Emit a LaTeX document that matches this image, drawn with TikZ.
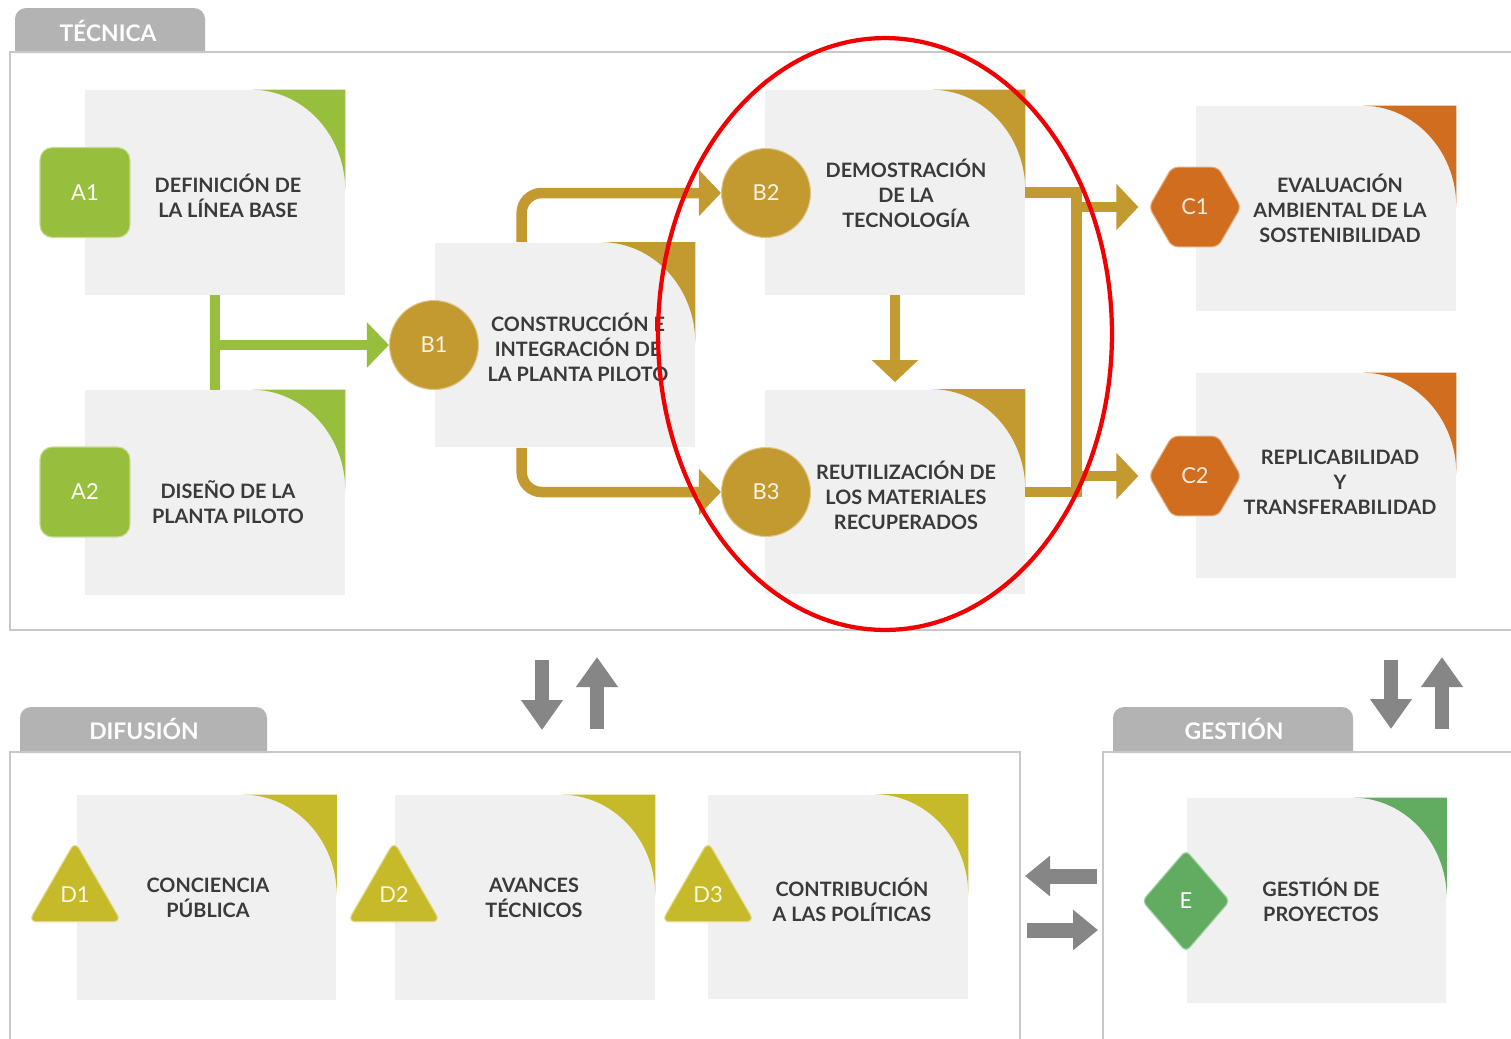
\documentclass[tikz,border=0pt]{standalone}
\usepackage{fontspec}
\setmainfont{Lato}
\usetikzlibrary{arrows.meta,shapes.geometric,calc}
\pgfdeclarelayer{bg}
\pgfdeclarelayer{mid}
\pgfsetlayers{bg,mid,main}
\definecolor{cardgray}{HTML}{F0F0F0}
\definecolor{framegray}{HTML}{C8C8C8}
\definecolor{tabgray}{HTML}{B3B3B3}
\definecolor{arrowgray}{HTML}{868686}
\definecolor{textdark}{HTML}{3A3A3A}
\definecolor{cgreen}{HTML}{97BF3D}
\definecolor{cgold}{HTML}{C39A2F}
\definecolor{corange}{HTML}{D06D1F}
\definecolor{colive}{HTML}{C6BA2B}
\definecolor{cgreenE}{HTML}{62AC62}
\definecolor{hlred}{HTML}{F00000}
\newcommand\cardcorner[2]{\fill[#2] (#1.north east) -- ++(-1.88cm,0) arc[start angle=90,end angle=0,x radius=1.88cm,y radius=2.02cm] -- cycle;}
\begin{document}
\begin{tikzpicture}[x=0.02cm,y=-0.02cm,
  framel/.style={draw=framegray,line width=0.05cm},
  tabfill/.style={fill=tabgray,rounded corners=0.22cm},
  tabtext/.style={text=white,font=\bfseries\fontsize{13}{15}\selectfont,inner sep=0},
  card/.style={fill=cardgray,minimum width=5.2cm,minimum height=4.1cm,inner sep=0},
  ctext/.style={align=center,text=textdark,font=\bfseries\fontsize{11.3}{14.2}\selectfont,inner sep=0},
  badge/.style={fill=#1,draw=#1!55!white,line width=0.6pt,font=\fontsize{12.5}{15}\selectfont,inner sep=0},
  sqbadge/.style={badge=#1,rectangle,rounded corners=0.25cm,minimum width=1.8cm,minimum height=1.8cm,text=white},
  circbadge/.style={badge=#1,circle,minimum size=1.78cm,text={#1!12!white}},
  hexbadge/.style={badge=#1,regular polygon,regular polygon sides=6,minimum size=1.84cm,rounded corners=0.12cm,text={#1!15!white}},
  tribadge/.style={badge=#1,regular polygon,regular polygon sides=3,minimum size=2.14cm,rounded corners=0.16cm,text={#1!12!white}},
  diabadge/.style={badge=#1,diamond,minimum width=1.76cm,minimum height=2.04cm,rounded corners=0.1cm,text=white},
  greenline/.style={draw=cgreen,line width=0.2cm},
  goldline/.style={draw=cgold,line width=0.21cm},
  ctip/.style={-{Triangle[width=0.9cm,length=0.44cm]}},
  vgarrow/.style={draw=arrowgray,line width=0.28cm,-{Triangle[width=0.8cm,length=0.6cm]}},
  hgarrow/.style={draw=arrowgray,line width=0.3cm,-{Triangle[width=0.78cm,length=0.5cm]}}
]
\useasboundingbox (0,0) rectangle (1511,1038);
\clip (0,0) rectangle (1511,1038);

\begin{pgfonlayer}{bg}
\fill[white] (0,0) rectangle (1511,1038);
% ---------- frames and tabs ----------
\fill[tabfill] (15,53) -- (15,8) -- (205,8) -- (205,53);
\draw[framel] (1540,52) -- (10,52) -- (10,630) -- (1540,630);
\fill[tabfill] (20,753) -- (20,707) -- (267,707) -- (267,753);
\draw[framel] (10,1060) -- (10,752) -- (1020,752) -- (1020,1060);
\fill[tabfill] (1113,753) -- (1113,707) -- (1353,707) -- (1353,753);
\draw[framel] (1103,1060) -- (1103,752) -- (1540,752);

% ---------- cards ----------
\node[card] (A1) at (215,192.5) {};  \cardcorner{A1}{cgreen}
\node[card] (A2) at (215,492.5) {};  \cardcorner{A2}{cgreen}
\node[card] (B1) at (565,345) {};    \cardcorner{B1}{cgold}
\node[card] (B2) at (895,192.5) {};  \cardcorner{B2}{cgold}
\node[card] (B3) at (895,492) {};    \cardcorner{B3}{cgold}
\node[card] (C1) at (1326,208.5) {}; \cardcorner{C1}{corange}
\node[card] (C2) at (1326,475.5) {}; \cardcorner{C2}{corange}
\node[card] (D1) at (206.5,897.5) {};\cardcorner{D1}{colive}
\node[card] (D2) at (525,897.5) {};  \cardcorner{D2}{colive}
\node[card] (D3) at (838,897) {};    \cardcorner{D3}{colive}
\node[card] (E) at (1316.5,900.5) {};\cardcorner{E}{cgreenE}
\end{pgfonlayer}

\node[tabtext] (tTec) at (108,31) {TÉCNICA};
\node[tabtext] (tDif) at (144,729) {DIFUSIÓN};
\node[tabtext] (tGes) at (1234,729) {GESTIÓN};

% ---------- badges ----------
\node[sqbadge=cgreen] (A1b) at (85,192.5) {A1};
\node[sqbadge=cgreen] (A2b) at (85,492) {A2};
\node[circbadge=cgold] (B1b) at (434,345) {B1};
\node[circbadge=cgold] (B2b) at (766,193) {B2};
\node[circbadge=cgold] (B3b) at (766,492) {B3};
\node[hexbadge=corange] (C1b) at (1195,207) {C1};
\node[hexbadge=corange] (C2b) at (1195,476) {C2};
\node[tribadge=colive] (D1b) at (75,895) {D1};
\node[tribadge=colive] (D2b) at (394,895) {D2};
\node[tribadge=colive] (D3b) at (708,895) {D3};
\node[diabadge=cgreenE] (Eb) at (1186,901) {E};

% ---------- connectors ----------
\begin{pgfonlayer}{mid}
\draw[greenline] (A1.south) -- (A2.north);
\draw[greenline,-{Triangle[width=0.88cm,length=0.44cm]}] (A1.south |- B1b.west) -- (B1b.west);

\draw[goldline,ctip,rounded corners=0.4cm] ([xshift=1.74cm]B1.north west) |- (B2b.west);
\draw[goldline,ctip,rounded corners=0.4cm] ([xshift=1.74cm]B1.south west) |- (B3b.west);
\draw[goldline,ctip,shorten >=0.14cm] (B2.south) -- (B3.north);
\coordinate (bus) at ([xshift=1.02cm]B2.east);
\draw[goldline] (B2.east) -- (bus) |- (B3.east);
\draw[goldline,ctip,shorten >=0.2cm] (bus |- C1b.west) -- (C1b.west);
\draw[goldline,ctip,shorten >=0.2cm] (bus |- C2b.west) -- (C2b.west);

% gray arrows between areas
\coordinate (p1s) at (542,660); \coordinate (p1e) at (542,730);
\coordinate (p2s) at (597,729); \coordinate (p2e) at (597,657);
\coordinate (p3s) at (1391,660); \coordinate (p3e) at (1391,729);
\coordinate (p4s) at (1442,729); \coordinate (p4e) at (1442,657);
\coordinate (h1s) at (1097,876); \coordinate (h1e) at (1025,876);
\coordinate (h2s) at (1027,930); \coordinate (h2e) at (1098,930);
\draw[vgarrow] (p1s) -- (p1e);
\draw[vgarrow] (p2s) -- (p2e);
\draw[vgarrow] (p3s) -- (p3e);
\draw[vgarrow] (p4s) -- (p4e);
\draw[hgarrow] (h1s) -- (h1e);
\draw[hgarrow] (h2s) -- (h2e);
\end{pgfonlayer}

% ---------- card texts ----------
\node[ctext] (A1t) at (228,196) {DEFINICIÓN DE\\LA LÍNEA BASE};
\node[ctext] (A2t) at (228,502) {DISEÑO DE LA\\PLANTA PILOTO};
\node[ctext] (B1t) at (578,347) {CONSTRUCCIÓN E\\INTEGRACIÓN DE\\LA PLANTA PILOTO};
\node[ctext] (B2t) at (906,193) {DEMOSTRACIÓN\\DE LA\\TECNOLOGÍA};
\node[ctext] (B3t) at (906,495) {REUTILIZACIÓN DE\\LOS MATERIALES\\RECUPERADOS};
\node[ctext] (C1t) at (1340,208) {EVALUACIÓN\\AMBIENTAL DE LA\\SOSTENIBILIDAD};
\node[ctext] (C2t) at (1340,482) {REPLICABILIDAD\\Y\\TRANSFERABILIDAD};
\node[ctext] (D1t) at (208,898) {CONCIENCIA\\PÚBLICA};
\node[ctext] (D2t) at (534,898) {AVANCES\\TÉCNICOS};
\node[ctext] (D3t) at (852,900) {CONTRIBUCIÓN\\A LAS POLÍTICAS};
\node[ctext] (Et) at (1321,900) {GESTIÓN DE\\PROYECTOS};

% ---------- red highlight ----------
\node[ellipse,draw=hlred,line width=0.085cm,minimum width=9.08cm,minimum height=11.84cm,inner sep=0] (hl) at (885,334) {};
\end{tikzpicture}
\end{document}
